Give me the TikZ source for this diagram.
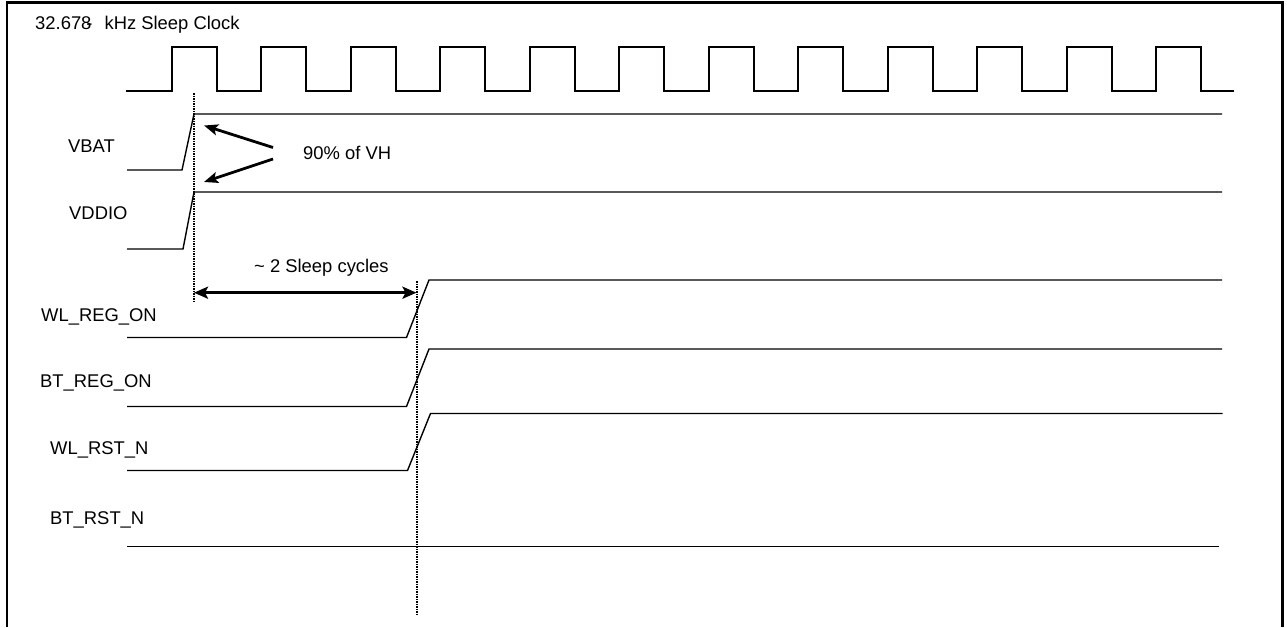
\documentclass[tikz,border=0pt]{standalone}
\usepackage{fontspec}
\setmainfont{Liberation Sans}
\usetikzlibrary{arrows.meta}
\begin{document}
\begin{tikzpicture}[x=1pt,y=-1pt,
  lbl/.style={anchor=base west,inner sep=0pt,font=\fontsize{18.4}{20}\selectfont},
  sig/.style={line width=1.4pt},
  clk/.style={line width=2pt},
  guide/.style={line width=2pt,dash pattern=on 1.5pt off 1pt},
  pointer/.style={line width=2.8pt,-{Stealth[length=14pt,width=11pt,inset=3pt]}},
  span/.style={line width=2.8pt,{Stealth[length=14pt,width=12pt,inset=3pt]}-{Stealth[length=14pt,width=12pt,inset=3pt]}}]
\useasboundingbox (0,0) rectangle (1287,627);
% frame (open at the bottom)
\draw[line width=2.6pt] (7,627) -- (7,2.5) -- (1282.5,2.5) -- (1282.5,627);

% labels
\node[lbl] (title) at (35,29) {32.678\kern-5pt-\hspace{12pt}kHz Sleep Clock};
\node[lbl] (vbat) at (68,152) {VBAT};
\node[lbl] (vddio) at (69,219) {VDDIO};
\node[lbl] (wlreg) at (41,321) {WL\_REG\_ON};
\node[lbl] (btreg) at (40,387) {BT\_REG\_ON};
\node[lbl] (wlrst) at (50,454) {WL\_RST\_N};
\node[lbl] (btrst) at (50,524) {BT\_RST\_N};
\node[lbl] (vh) at (303,159) {90\% of VH};
\node[lbl] (cyc) at (254,272) {\textasciitilde\ 2 Sleep cycles};

% sleep clock
\draw[clk] (126,91) foreach \k in {0,...,11} {
  -- ({172+\k*89.45},91) -- ({172+\k*89.45},47) -- ({217+\k*89.45},47) -- ({217+\k*89.45},91) }
  -- (1234,91);

% signals
\draw[sig] (127,170) -- (182,170) -- (194,114) -- (1222,114);
\draw[sig] (127,249) -- (183,249) -- (194,192) -- (1222,192);
\draw[sig] (127,337.5) -- (406.5,337.5) -- (429,280) -- (1222,280);
\draw[sig] (127,406.5) -- (406.5,406.5) -- (429,349) -- (1222,349);
\draw[sig] (127,470.5) -- (407.5,470.5) -- (430.5,413.5) -- (1222.5,413.5);
\draw[sig] (127,546.5) -- (1219,546.5);

% guides
\coordinate (g1top) at (193.5,93);
\coordinate (g1bot) at (193.5,302);
\coordinate (g2top) at (417,281);
\coordinate (g2bot) at (417,616);
\draw[guide] (g1top) -- (g1bot);
\draw[guide] (g2top) -- (g2bot);

% pointers
\coordinate (t1) at (273,147.5);
\coordinate (h1) at (204,125.5);
\coordinate (t2) at (273,159);
\coordinate (h2) at (204,182);
\draw[pointer] (t1) -- (h1);
\draw[pointer] (t2) -- (h2);

\coordinate (s1) at (194,292.7);
\coordinate (s2) at (416.5,292.7);
\draw[span] (s1) -- (s2);
\end{tikzpicture}
\end{document}
